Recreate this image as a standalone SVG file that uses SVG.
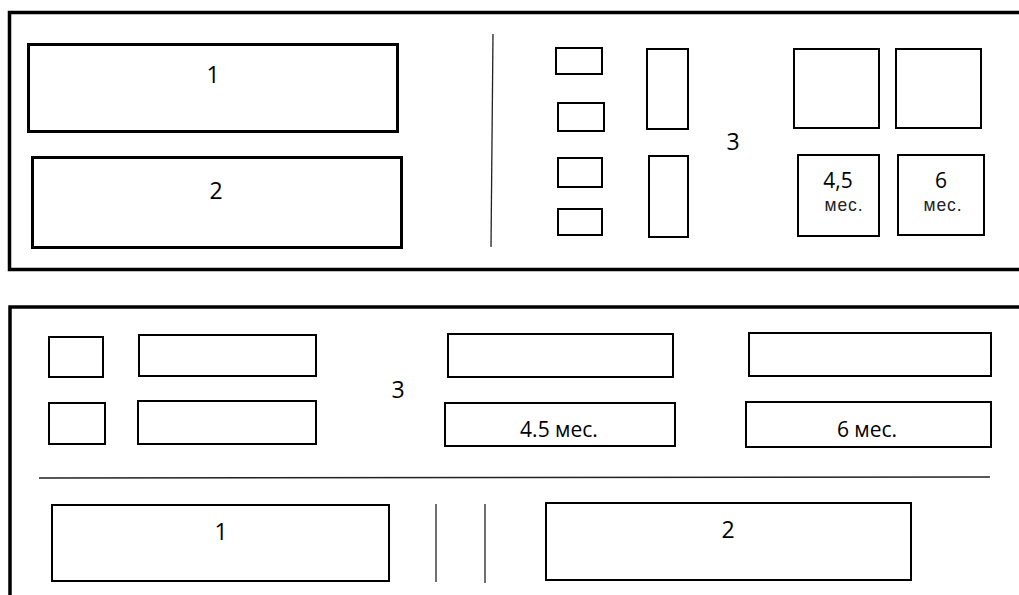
<svg xmlns="http://www.w3.org/2000/svg" width="1019" height="595" viewBox="0 0 1019 595">
<style>
.frame{fill:none;stroke:#000;stroke-width:3.5}
.thick{fill:#fff;stroke:#000;stroke-width:3}
.box{fill:#fff;stroke:#000;stroke-width:2}
.div{stroke:#222;stroke-width:1.3;fill:none}
.lbl{font-family:"Open Sans","Noto Sans",sans-serif;font-size:23px;fill:#000;text-anchor:middle}
.sm{font-family:"Open Sans","Noto Sans",sans-serif;font-size:21px;fill:#000;text-anchor:middle}
.ar{font-family:"Liberation Sans",Arial,sans-serif;font-size:17.5px;fill:#222;text-anchor:middle;letter-spacing:0.9px}
</style>
<rect width="1019" height="595" fill="#fff"/>
<g id="frames">
<path class="frame" d="M1019 12.5 H9.5 V269.5 H1019"/>
<path class="frame" d="M1019 307 H10 V595"/>
</g>
<g id="connectors">
<line class="div" x1="493" y1="34" x2="491" y2="247"/>
<line class="div" x1="39" y1="478" x2="990" y2="477"/>
<line class="div" x1="436" y1="504" x2="436" y2="582"/>
<line class="div" x1="485" y1="504" x2="485" y2="583"/>
</g>
<g id="top-1"><rect class="thick" x="28.5" y="44.5" width="369" height="87"/><text class="lbl" x="213" y="83">1</text></g>
<g id="top-2"><rect class="thick" x="32.5" y="157.5" width="369" height="90"/><text class="lbl" x="216" y="199">2</text></g>
<g id="top-r1"><rect class="box" x="556" y="48" width="46" height="26"/></g>
<g id="top-r2"><rect class="box" x="558" y="103" width="46" height="28"/></g>
<g id="top-r3"><rect class="box" x="558" y="158" width="44" height="29"/></g>
<g id="top-r4"><rect class="box" x="558" y="209" width="44" height="26"/></g>
<g id="top-t1"><rect class="box" x="647" y="49" width="41" height="80"/></g>
<g id="top-t2"><rect class="box" x="649" y="156" width="39" height="81"/></g>
<g id="top-3"><text class="lbl" x="733" y="150">3</text></g>
<g id="top-s1"><rect class="box" x="794" y="49" width="85" height="79"/></g>
<g id="top-s2"><rect class="box" x="896" y="49" width="85" height="79"/></g>
<g id="top-s3"><rect class="box" x="798" y="155" width="81" height="81"/><text class="sm" x="838" y="188">4,5</text><text class="ar" x="844" y="211">мес.</text></g>
<g id="top-s4"><rect class="box" x="898" y="155" width="86" height="80"/><text class="sm" x="941" y="188">6</text><text class="ar" x="943" y="211">мес.</text></g>
<g id="bot-q1"><rect class="box" x="49" y="337" width="54" height="40"/></g>
<g id="bot-q2"><rect class="box" x="49" y="403" width="56" height="41"/></g>
<g id="bot-w1"><rect class="box" x="139" y="335" width="177" height="41"/></g>
<g id="bot-w2"><rect class="box" x="138" y="401" width="178" height="43"/></g>
<g id="bot-3"><text class="lbl" x="398" y="398">3</text></g>
<g id="bot-w3"><rect class="box" x="448" y="334" width="225" height="43"/></g>
<g id="bot-w4"><rect class="box" x="749" y="333" width="242" height="43"/></g>
<g id="bot-w5"><rect class="box" x="445" y="403" width="230" height="43"/><text class="sm" x="559" y="437">4.5 мес.</text></g>
<g id="bot-w6"><rect class="box" x="746" y="402" width="245" height="45"/><text class="sm" x="867" y="437">6 мес.</text></g>
<g id="bot-1"><rect class="box" x="52" y="505" width="337" height="76"/><text class="lbl" x="221" y="540">1</text></g>
<g id="bot-2"><rect class="box" x="546" y="503" width="365" height="77"/><text class="lbl" x="728" y="538">2</text></g>
</svg>
